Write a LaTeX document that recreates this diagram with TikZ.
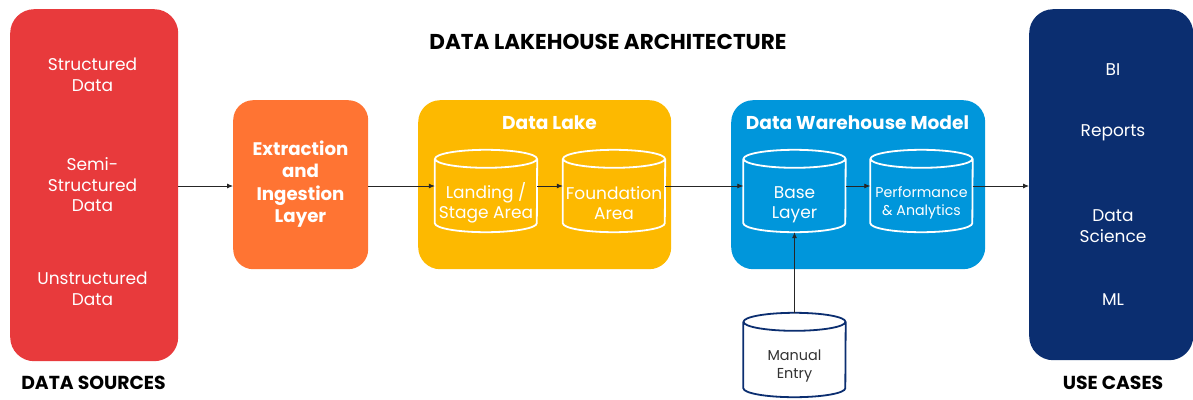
\documentclass[tikz,border=0pt]{standalone}
\usepackage{fontspec}
\setmainfont{Poppins}
\usetikzlibrary{arrows.meta}

\definecolor{srcred}{HTML}{E83A3C}
\definecolor{ingorange}{HTML}{FF7433}
\definecolor{lakeyellow}{HTML}{FDB900}
\definecolor{dwblue}{HTML}{0096DB}
\definecolor{usenavy}{HTML}{0B2E70}
\definecolor{txtgray}{HTML}{333333}

% outline of a vertical cylinder drawn on the frame of a named node
\newcommand\cylframe[2]{%
  \draw[#2, line width=1.8pt]
    ([yshift=-9pt]#1.north) ellipse [x radius=51pt, y radius=9pt]
    ([yshift=-9pt]#1.north west) -- ([yshift=9pt]#1.south west)
    arc [start angle=180, end angle=360, x radius=51pt, y radius=9pt]
    -- ([yshift=-9pt]#1.north east);}

\begin{document}
\begin{tikzpicture}[x=1pt, y=-1pt,
  panel/.style={rounded corners=#1, inner sep=0pt, anchor=north west},
  item/.style={text=white, align=center, font=\fontsize{17}{20.5}\selectfont},
  heading/.style={text=white, align=center, font=\bfseries\fontsize{18.6}{22}\selectfont},
  caption/.style={text=black, font=\bfseries\fontsize{18.8}{20}\selectfont},
  cylbox/.style={minimum width=102pt, minimum height=82pt, inner sep=0pt},
  flow/.style={draw=black!85, line width=0.8pt, -{Latex[length=6pt, width=5pt]}}]

\useasboundingbox (0,0) rectangle (1193,399);

% title
\node[caption, font=\bfseries\fontsize{21.5}{24}\selectfont] (title) at (608,42) {DATA LAKEHOUSE ARCHITECTURE};

% data sources
\node[panel=24pt, fill=srcred, minimum width=168pt, minimum height=352pt] (src) at (10,9) {};
\node[item] (s1) at (92.5,75) {Structured\\Data};
\node[item] (s2) at (92.5,185) {Semi-\\Structured\\Data};
\node[item] (s3) at (92.5,289) {Unstructured\\Data};
\node[caption] (srccap) at (93.5,383) {DATA SOURCES};

% extraction and ingestion
\node[panel=20pt, fill=ingorange, minimum width=135pt, minimum height=169pt] (ing) at (233,100) {};
\node[heading, font=\bfseries\fontsize{18.2}{22.5}\selectfont] (ingtxt) at (300.5,184) {Extraction\\and\\Ingestion\\Layer};

% data lake
\node[panel=22pt, fill=lakeyellow, minimum width=253pt, minimum height=169pt] (lake) at (418,100) {};
\node[heading] (laketitle) at (549.5,123) {Data Lake};
\node[cylbox, label={[item, yshift=-12pt]center:Landing /\\Stage Area}] (land) at (486,191) {};
\node[cylbox, label={[item, yshift=-12pt]center:Foundation\\Area}] (found) at (614,191) {};
\cylframe{land}{white}
\cylframe{found}{white}

% data warehouse model
\node[panel=22pt, fill=dwblue, minimum width=254pt, minimum height=169pt] (dw) at (731,100) {};
\node[heading] (dwtitle) at (857.5,123) {Data Warehouse Model};
\node[cylbox, label={[item, yshift=-14pt]center:Base\\Layer}] (base) at (794.5,191) {};
\node[cylbox, label={[item, yshift=-12pt, font=\fontsize{14.2}{17.5}\selectfont]center:Performance\\\& Analytics}] (perf) at (921.5,191) {};
\cylframe{base}{white}
\cylframe{perf}{white}

% manual entry
\node[cylbox, minimum height=84pt] (manual) at (794.5,355) {};
\fill[white] ([yshift=-9pt]manual.north west) -- ([yshift=9pt]manual.south west)
  arc [start angle=180, end angle=360, x radius=51pt, y radius=9pt]
  -- ([yshift=-9pt]manual.north east) arc [start angle=0, end angle=180, x radius=51pt, y radius=9pt];
\cylframe{manual}{usenavy}
\node[text=txtgray, align=center, font=\fontsize{14.4}{18}\selectfont] (mantxt) at (794.5,366) {Manual\\Entry};

% use cases
\node[panel=24pt, fill=usenavy, minimum width=164pt, minimum height=351pt] (use) at (1029,9) {};
\node[item] (u1) at (1113,70) {BI};
\node[item] (u2) at (1113,133) {Reports};
\node[item] (u3) at (1113,226) {Data\\Science};
\node[item] (u4) at (1113,300) {ML};
\node[caption] (usecap) at (1113,383) {USE CASES};

% connectors along the main flow line
\coordinate (lane) at (0,186);
\draw[flow] (src.east |- lane) -- (ing.west |- lane);
\draw[flow] (ing.east |- lane) -- (land.west |- lane);
\draw[flow] (land.east |- lane) -- (found.west |- lane);
\draw[flow] (found.east |- lane) -- (base.west |- lane);
\draw[flow] (base.east |- lane) -- (perf.west |- lane);
\draw[flow] (perf.east |- lane) -- (use.west |- lane);
\draw[flow] (manual.north) -- (base.south);
\end{tikzpicture}
\end{document}
